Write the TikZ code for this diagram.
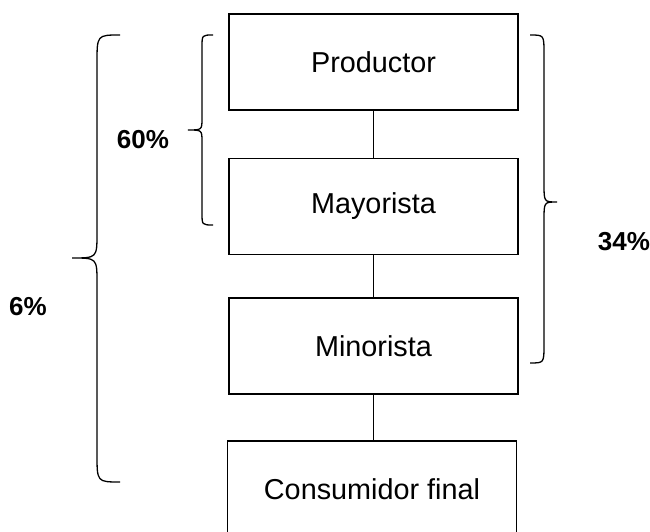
\documentclass[tikz,border=0pt]{standalone}
\usepackage{fontspec}
\setmainfont{Liberation Sans}
\begin{document}
\begin{tikzpicture}[x=1pt,y=1pt,
  stagebox/.style={draw,line width=1.5pt,minimum width=289pt,minimum height=96pt,inner sep=0pt,font=\fontsize{28.8}{34}\selectfont},
  link/.style={line width=1.5pt},
  bracepath/.style={line width=1.3pt},
  pct/.style={font=\fontsize{26}{30}\selectfont\bfseries,inner sep=0pt}]
\useasboundingbox (0,0) rectangle (650,532);
\clip (0,0) rectangle (650,532);
\node[stagebox] (prod) at (373.5,470) {Productor};
\node[stagebox] (may) at (373.5,325.5) {Mayorista};
\node[stagebox] (min) at (373.5,186) {Minorista};
\node[stagebox] (cons) at (372,43) {Consumidor final};
\draw[link] (prod.south) -- (may.north);
\draw[link] (may.south) -- (min.north);
\draw[link] (min.south) -- (min.south |- cons.north);
% small left brace (60%)
\draw[bracepath] (213,497) .. controls (202,497) .. (202,485) -- (202,414)
  .. controls (202,402) .. (188,402) .. controls (202,402) .. (202,390)
  -- (202,319) .. controls (202,307) .. (213,307);
% big left brace (6%)
\draw[bracepath] (120,497) .. controls (97,497) .. (97,469) -- (97,299)
  .. controls (97,274) .. (72,274) .. controls (97,274) .. (97,249)
  -- (97,78) .. controls (97,50) .. (120,50);
% right brace (34%)
\draw[bracepath] (530,497) .. controls (544,497) .. (544,479) -- (544,348)
  .. controls (544,330) .. (557,330) .. controls (544,330) .. (544,312)
  -- (544,187) .. controls (544,169) .. (530,169);
\node[pct] (p60) at (143,392) {60\%};
\node[pct] (p6) at (28,225) {6\%};
\node[pct] (p34) at (624,290) {34\%};
\end{tikzpicture}
\end{document}
